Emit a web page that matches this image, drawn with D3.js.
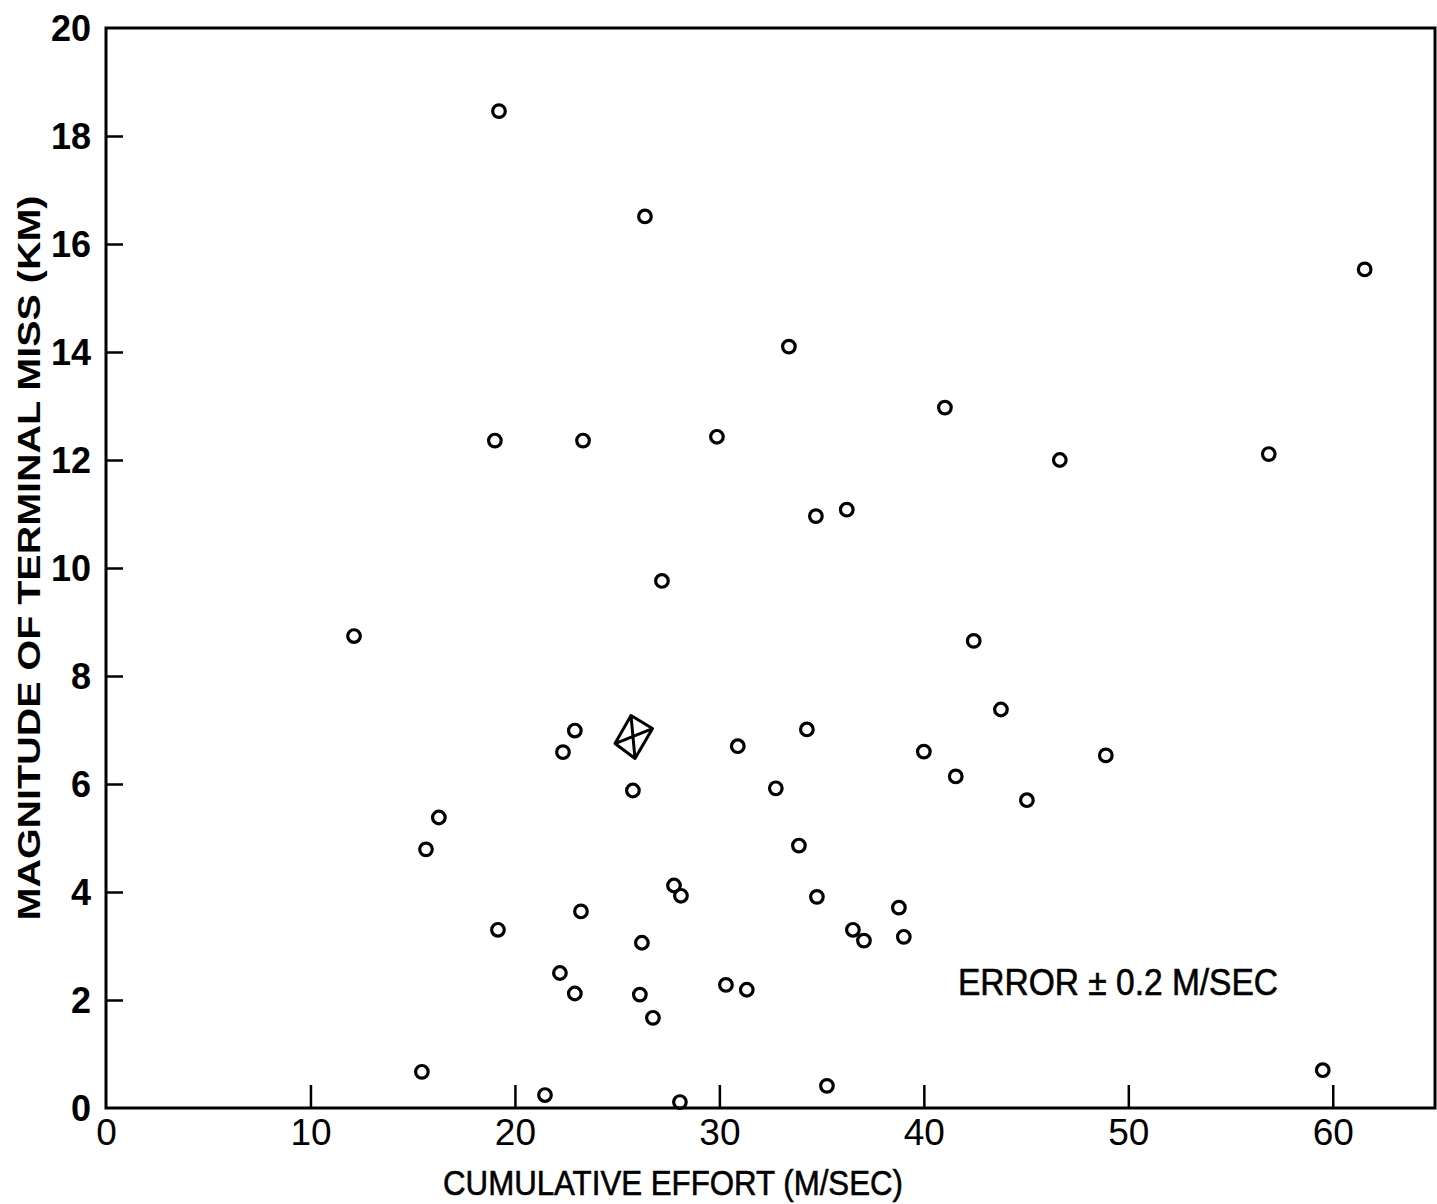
<!DOCTYPE html>
<html lang="en">
<head>
<meta charset="UTF-8">
<title>terminal miss vs cumulative effort</title>
<script src="https://d3js.org/d3.v7.min.js"></script>
<style>
  body{margin:0;background:#fff;}
  .chart text{font-family:"Liberation Sans","DejaVu Sans",sans-serif;fill:#000;}
  .axis path,.axis line{stroke:#000;}
  .axis--y text{font-weight:bold;font-size:36px;}
  .axis--x text{font-family:"Liberation Sans Narrow","Liberation Sans",sans-serif;font-size:37px;}
  .dot{fill:none;stroke:#000;stroke-width:3.2;}
</style>
</head>
<body>
<svg class="chart"></svg>
<script>
// cumulative effort (m/sec)
let effort=[19.22,26.36,61.56,33.40,41.03,19.02,23.33,29.88,46.65,56.87,
            34.72,36.23,27.19,12.13,42.44,43.77,22.93,22.35,30.90,34.28,
            40.00,41.56,48.90,25.77,32.76,45.04,16.28,15.65,33.89,27.78,
            28.12,34.77,38.78,23.23,19.17,26.21,36.53,37.07,39.02,22.20,
            22.93,26.11,30.32,31.34,26.75,15.45,59.51,21.47,35.26,28.07];
// magnitude of terminal miss (km)
let miss=[18.46,16.51,15.53,14.10,12.97,12.36,12.36,12.43,12.00,12.11,
          10.96,11.08,9.76,8.74,8.65,7.38,6.99,6.59,6.70,7.01,
          6.60,6.14,6.53,5.88,5.92,5.70,5.38,4.79,4.86,4.12,
          3.93,3.91,3.71,3.64,3.30,3.06,3.30,3.10,3.17,2.50,
          2.12,2.10,2.28,2.19,1.67,0.67,0.70,0.24,0.41,0.11];
// special (diamond) point
let special=[{x:25.8,y:6.87}];
let xTicks=[0,10,20,30,40,50,60];
let yTicks=[0,2,4,6,8,10,12,14,16,18,20];

let W=1437,H=1204;
let x=d3.scaleLinear().domain([0,65]).range([106,1435]);
let y=d3.scaleLinear().domain([0,20]).range([1108,28]);

let svg=d3.select('.chart').attr('width',W).attr('height',H);

// frame
svg.append('rect')
   .attr('x',x(0)).attr('y',y(20))
   .attr('width',x(65)-x(0)).attr('height',y(0)-y(20))
   .attr('fill','none').attr('stroke','#000').attr('stroke-width',3);

let xAxis=d3.axisBottom(x).tickValues(xTicks).tickSizeInner(-23).tickSizeOuter(0).tickPadding(8);
let yAxis=d3.axisLeft(y).tickValues(yTicks).tickSizeInner(-17).tickSizeOuter(0).tickPadding(14);

let gx=svg.append('g').attr('class','axis axis--x')
   .attr('transform','translate(0,'+y(0)+')').call(xAxis);
gx.select('.domain').remove();
gx.selectAll('line').attr('stroke-width',2.5);
gx.selectAll('text').attr('y',10).attr('dy','0.72em');
gx.selectAll('.tick').filter(d=>d===0).select('line').remove();

let gy=svg.append('g').attr('class','axis axis--y')
   .attr('transform','translate('+x(0)+',0)').call(yAxis);
gy.select('.domain').remove();
gy.selectAll('line').attr('stroke-width',2.5);
gy.selectAll('text').attr('x',-15).attr('dy','0.36em');
gy.selectAll('.tick').filter(d=>d===0||d===20).select('line').remove();

// points
let pts=effort.map((e,i)=>({x:e,y:miss[i]}));
svg.selectAll('.dot').data(pts).enter()
   .append('circle').attr('class','dot')
   .attr('cx',d=>x(d.x)).attr('cy',d=>y(d.y)).attr('r',6.3);

// diamond marker with crossed diagonals
let mk='M-2.5,-21.5L19,-8.5L1.5,21.5L-18.5,6.5Z M-2.5,-21.5L1.5,21.5 M19,-8.5L-18.5,6.5';
svg.selectAll('.special').data(special).enter()
   .append('path').attr('class','special')
   .attr('transform',d=>'translate('+x(d.x)+','+y(d.y)+')')
   .attr('d',mk).attr('fill','none').attr('stroke','#000')
   .attr('stroke-width',3).attr('stroke-linejoin','round');

// axis titles
svg.append('text')
   .attr('x',673).attr('y',1195)
   .attr('text-anchor','middle')
   .attr('font-size',35)
   .attr('stroke','#000').attr('stroke-width',0.6)
   .attr('textLength',460).attr('lengthAdjust','spacingAndGlyphs')
   .text('CUMULATIVE EFFORT (M/SEC)');

svg.append('text')
   .attr('transform','translate(40,558) rotate(-90)')
   .attr('text-anchor','middle')
   .attr('font-size',32).attr('font-weight','bold')
   .attr('textLength',725).attr('lengthAdjust','spacingAndGlyphs')
   .text('MAGNITUDE OF TERMINAL MISS (KM)');

svg.append('text')
   .attr('x',958).attr('y',995)
   .attr('font-size',36)
   .attr('stroke','#000').attr('stroke-width',0.6)
   .attr('textLength',320).attr('lengthAdjust','spacingAndGlyphs')
   .text('ERROR \u00B1 0.2 M/SEC');
</script>
</body>
</html>
